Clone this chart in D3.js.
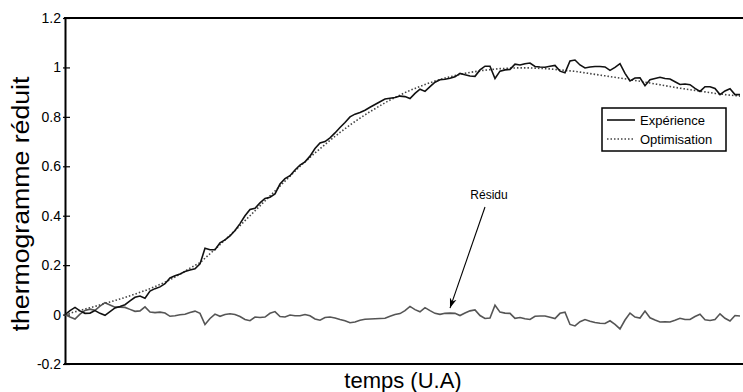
<!DOCTYPE html>
<html>
<head>
<meta charset="utf-8">
<script src="https://cdn.jsdelivr.net/npm/d3@7"></script>
<style>
  body { margin: 0; background: #fff; }
  svg { display: block; font-family: "Liberation Sans", Arial, sans-serif; }
</style>
</head>
<body>
<svg id="chart" width="743" height="392"></svg>
<script>
// sample index 0..135 along "temps"
const experience = [
  0.000, 0.016, 0.029, 0.015, 0.005, 0.006, 0.016, 0.005, -0.003, 0.012,
  0.027, 0.033, 0.040, 0.055, 0.070, 0.075, 0.066, 0.095, 0.105, 0.112,
  0.125, 0.148, 0.157, 0.164, 0.174, 0.180, 0.185, 0.205, 0.268, 0.262,
  0.262, 0.290, 0.302, 0.318, 0.340, 0.368, 0.400, 0.425, 0.430, 0.452,
  0.470, 0.475, 0.488, 0.528, 0.550, 0.562, 0.585, 0.605, 0.618, 0.641,
  0.672, 0.694, 0.700, 0.715, 0.735, 0.757, 0.777, 0.800, 0.811, 0.818,
  0.827, 0.839, 0.850, 0.861, 0.872, 0.875, 0.878, 0.884, 0.882, 0.874,
  0.895, 0.912, 0.903, 0.922, 0.940, 0.950, 0.952, 0.956, 0.962, 0.976,
  0.970, 0.965, 0.964, 0.990, 1.005, 1.005, 0.955, 0.985, 0.990, 0.992,
  1.013, 1.010, 1.015, 1.018, 1.004, 1.002, 1.001, 1.005, 1.008, 0.985,
  0.978, 1.026, 1.030, 1.010, 0.998, 1.002, 1.004, 1.004, 1.002, 0.988,
  1.000, 1.015, 0.976, 0.945, 0.957, 0.958, 0.926, 0.950, 0.955, 0.960,
  0.955, 0.953, 0.942, 0.931, 0.933, 0.930, 0.915, 0.903, 0.922, 0.922,
  0.915, 0.890, 0.905, 0.914, 0.890, 0.890
];

const optimisation = [
  0.000, 0.006, 0.011, 0.017, 0.022, 0.028, 0.033, 0.039, 0.045, 0.051,
  0.057, 0.063, 0.069, 0.076, 0.083, 0.090, 0.097, 0.105, 0.113, 0.122,
  0.131, 0.141, 0.152, 0.163, 0.175, 0.188, 0.199, 0.210, 0.228, 0.246,
  0.264, 0.283, 0.302, 0.321, 0.340, 0.360, 0.380, 0.400, 0.420, 0.440,
  0.460, 0.480, 0.500, 0.520, 0.540, 0.560, 0.580, 0.600, 0.618, 0.636,
  0.654, 0.671, 0.688, 0.705, 0.721, 0.737, 0.752, 0.767, 0.781, 0.795,
  0.808, 0.821, 0.833, 0.845, 0.857, 0.868, 0.878, 0.888, 0.898, 0.907,
  0.915, 0.923, 0.931, 0.938, 0.945, 0.951, 0.957, 0.962, 0.967, 0.972,
  0.976, 0.980, 0.983, 0.986, 0.989, 0.991, 0.993, 0.995, 0.996, 0.997,
  0.998, 0.998, 0.998, 0.998, 0.997, 0.996, 0.995, 0.994, 0.992, 0.990,
  0.988, 0.986, 0.984, 0.981, 0.978, 0.975, 0.972, 0.969, 0.966, 0.963,
  0.960, 0.957, 0.954, 0.951, 0.947, 0.944, 0.940, 0.937, 0.933, 0.930,
  0.926, 0.923, 0.919, 0.916, 0.913, 0.910, 0.907, 0.904, 0.901, 0.898,
  0.895, 0.893, 0.890, 0.888, 0.886, 0.884
];

const residu = [
  0.000, -0.010, -0.018, 0.002, 0.017, 0.022, 0.017, 0.034, 0.048, 0.039,
  0.030, 0.030, 0.029, 0.021, 0.013, 0.015, 0.031, 0.010, 0.008, 0.010,
  0.006, -0.007, -0.005, -0.001, 0.001, 0.008, 0.014, 0.005, -0.040, -0.016,
  0.002, -0.007, 0.000, 0.003, 0.000, -0.008, -0.020, -0.025, -0.010, -0.012,
  -0.010, 0.005, 0.012, -0.008, -0.010, -0.002, -0.005, -0.005, 0.000, -0.005,
  -0.018, -0.023, -0.012, -0.010, -0.014, -0.020, -0.025, -0.033, -0.030, -0.023,
  -0.019, -0.018, -0.017, -0.016, -0.015, -0.007, 0.000, 0.004, 0.016, 0.033,
  0.020, 0.011, 0.028, 0.016, 0.005, 0.001, 0.005, 0.006, 0.005, -0.004,
  0.006, 0.015, 0.019, -0.004, -0.016, -0.014, 0.038, 0.010, 0.006, 0.005,
  -0.015, -0.012, -0.017, -0.020, -0.007, -0.006, -0.006, -0.011, -0.016, 0.005,
  0.010, -0.040, -0.046, -0.029, -0.020, -0.027, -0.032, -0.035, -0.036, -0.025,
  -0.040, -0.058, -0.022, 0.006, -0.010, -0.014, 0.014, -0.013, -0.022, -0.030,
  -0.029, -0.030, -0.023, -0.015, -0.020, -0.020, -0.008, 0.001, -0.021, -0.024,
  -0.020, 0.003, -0.015, -0.026, -0.004, -0.006
];

const yTicks = [-0.2, 0, 0.2, 0.4, 0.6, 0.8, 1, 1.2];
const yTickLabels = ["-0.2", "0", "0.2", "0.4", "0.6", "0.8", "1", "1.2"];
const legendLabels = ["Expérience", "Optimisation"];

const svg = d3.select("#chart");
const plotLeft = 65, plotRight = 743, plotTop = 18, plotBottom = 364;

const x = d3.scaleLinear().domain([0, experience.length - 1]).range([plotLeft, 740]);
const y = d3.scaleLinear().domain([-0.2, 1.2]).range([plotBottom, plotTop]);

const line = d3.line()
  .x(function(d, i) { return x(i); })
  .y(function(d) { return y(d); });

// y axis, ticks inside
const yAxis = svg.append("g")
  .attr("transform", "translate(" + plotLeft + ",0)")
  .call(d3.axisLeft(y).tickValues(yTicks)
    .tickFormat(function(d, i) { return yTickLabels[i]; })
    .tickSizeInner(-5).tickSizeOuter(0).tickPadding(4));
yAxis.select(".domain").attr("stroke", "#000").attr("stroke-width", 2);
yAxis.selectAll(".tick line").attr("x1", -2).attr("x2", 5).attr("stroke-width", 1.2);
yAxis.selectAll(".tick text")
  .attr("font-size", 14)
  .attr("font-family", "Liberation Sans, Arial, sans-serif")
  .attr("fill", "#000");

// bottom axis and top frame line
svg.append("line")
  .attr("x1", plotLeft - 1).attr("x2", plotRight).attr("y1", plotBottom).attr("y2", plotBottom)
  .attr("stroke", "#000").attr("stroke-width", 2);
svg.append("line")
  .attr("x1", plotLeft - 1).attr("x2", plotRight).attr("y1", plotTop).attr("y2", plotTop)
  .attr("stroke", "#000").attr("stroke-width", 2);

// curves
svg.append("path").datum(residu)
  .attr("d", line).attr("fill", "none")
  .attr("stroke", "#555").attr("stroke-width", 1.6);

svg.append("path").datum(optimisation)
  .attr("d", line).attr("fill", "none")
  .attr("stroke", "#444").attr("stroke-width", 1.6)
  .attr("stroke-dasharray", "1.5,2");

svg.append("path").datum(experience)
  .attr("d", line).attr("fill", "none")
  .attr("stroke", "#111").attr("stroke-width", 1.6);

// axis titles
svg.append("text")
  .attr("x", 403).attr("y", 388)
  .attr("text-anchor", "middle")
  .attr("font-size", 22)
  .text("temps (U.A)");

// the original title is stretched along its length
svg.append("text")
  .attr("transform", "translate(29,204) rotate(-90) scale(1.16,1)")
  .attr("text-anchor", "middle")
  .attr("font-size", 23)
  .text("thermogramme réduit");

// annotation
svg.append("defs").append("marker")
  .attr("id", "arrow").attr("viewBox", "0 0 10 10")
  .attr("refX", 10).attr("refY", 5)
  .attr("markerWidth", 9).attr("markerHeight", 9)
  .attr("orient", "auto")
  .append("path").attr("d", "M0,1.5 L10,5 L0,8.5 L3,5 z").attr("fill", "#000");

svg.append("text")
  .attr("x", 489).attr("y", 199)
  .attr("text-anchor", "middle")
  .attr("font-size", 12)
  .text("Résidu");

svg.append("line")
  .attr("x1", x(84)).attr("y1", 207)
  .attr("x2", x(77)).attr("y2", y(residu[77]) - 5)
  .attr("stroke", "#000").attr("stroke-width", 1.1)
  .attr("marker-end", "url(#arrow)");

// legend
const lg = svg.append("g").attr("transform", "translate(602,108)");
lg.append("rect").attr("width", 124).attr("height", 43)
  .attr("fill", "#fff").attr("stroke", "#000").attr("stroke-width", 1.5);
const styles = [{ c: "#111", dash: null }, { c: "#444", dash: "1.5,2" }];
legendLabels.forEach(function(lab, i) {
  const yy = 12 + i * 19;
  lg.append("line")
    .attr("x1", 5).attr("x2", 33).attr("y1", yy).attr("y2", yy)
    .attr("stroke", styles[i].c).attr("stroke-width", 1.6)
    .attr("stroke-dasharray", styles[i].dash);
  lg.append("text")
    .attr("x", 38).attr("y", yy + 4.5)
    .attr("font-size", 13)
    .text(lab);
});
</script>
</body>
</html>
